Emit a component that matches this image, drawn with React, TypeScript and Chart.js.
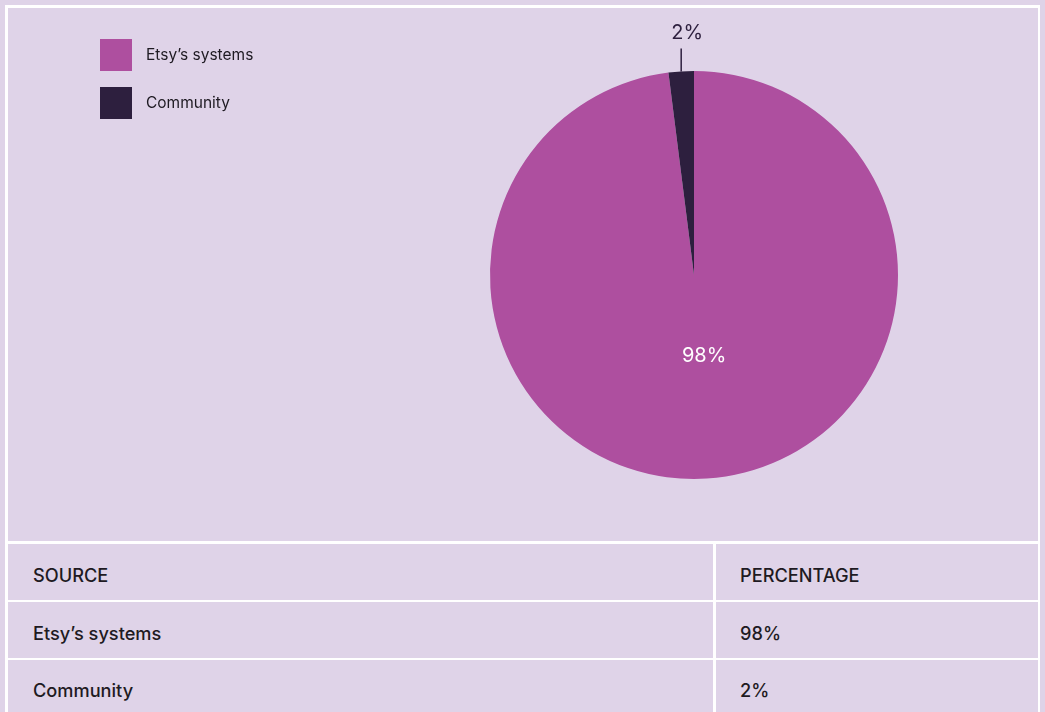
import React, { useEffect, useRef } from "react";
import { Chart, registerables } from "chart.js";

Chart.register(...registerables);

const categories = ["Etsy’s systems", "Community"];
const values = [98, 2];
const valueLabels = ["98%", "2%"];
const tableHeaders = ["SOURCE", "PERCENTAGE"];

const BG = "#DFD3E8";
const COLORS = ["#AE4F9F", "#2D1F3E"];
const FONT = "Inter, 'Liberation Sans', Arial, sans-serif";

const labelPlugin = {
  id: "customLabels",
  afterDatasetsDraw(chart: any) {
    const ctx = chart.ctx;
    const meta = chart.getDatasetMeta(0);
    ctx.save();
    meta.data.forEach((arc: any, i: number) => {
      const { x, y, startAngle, endAngle, outerRadius } = arc.getProps(
        ["x", "y", "startAngle", "endAngle", "outerRadius"],
        true
      );
      const mid = (startAngle + endAngle) / 2;
      const share = values[i] / values.reduce((a, b) => a + b, 0);
      ctx.font = `20px ${FONT}`;
      ctx.textAlign = "center";
      ctx.textBaseline = "middle";
      if (share > 0.1) {
        const r = outerRadius * 0.4;
        ctx.fillStyle = "#FFFFFF";
        ctx.fillText(valueLabels[i], x + Math.cos(mid) * r + 5, y + Math.sin(mid) * r);
      } else {
        const x0 = x + Math.cos(mid) * outerRadius;
        const y0 = y + Math.sin(mid) * outerRadius;
        const x1 = x0;
        const y1 = y0 - 23;
        ctx.strokeStyle = COLORS[1];
        ctx.lineWidth = 1.5;
        ctx.beginPath();
        ctx.moveTo(x0, y0);
        ctx.lineTo(x1, y1);
        ctx.stroke();
        ctx.fillStyle = "#2D1F3E";
        ctx.fillText(valueLabels[i], x1 + 6, y1 - 15);
      }
    });
    // legend
    categories.forEach((c, i) => {
      const ly = 31 + i * 48;
      ctx.fillStyle = COLORS[i];
      ctx.fillRect(92, ly, 32, 32);
      ctx.fillStyle = "#1E1A22";
      ctx.font = `15.5px ${FONT}`;
      ctx.textAlign = "left";
      ctx.textBaseline = "middle";
      ctx.fillText(c, 138, ly + 16);
    });
    ctx.restore();
  },
};

export default function App() {
  const ref = useRef<HTMLCanvasElement>(null);
  useEffect(() => {
    document.body.style.margin = "0";
    const chart = new Chart(ref.current!, {
      type: "pie",
      data: {
        labels: categories,
        datasets: [
          {
            data: values,
            backgroundColor: COLORS,
            borderWidth: 0,
          },
        ],
      },
      options: {
        animation: false,
        responsive: false,
        maintainAspectRatio: false,
        layout: { padding: { left: 482, right: 140, top: 63, bottom: 62 } },
        plugins: {
          legend: { display: false },
          tooltip: { enabled: false },
        },
      },
      plugins: [labelPlugin],
    });
    return () => chart.destroy();
  }, []);

  const cellText: React.CSSProperties = {
    fontFamily: FONT,
    fontSize: 18.2,
    fontWeight: 500,
    color: "#1E1A22",
    display: "flex",
    alignItems: "center",
    boxSizing: "border-box",
  };
  const rows = [tableHeaders, ...categories.map((c, i) => [c, valueLabels[i]])];

  return (
    <div
      style={{
        position: "relative",
        width: 1045,
        height: 712,
        background: BG,
        overflow: "hidden",
      }}
    >
      <div
        style={{
          position: "absolute",
          left: 5,
          top: 5,
          width: 1035,
          height: 707,
          background: "#FFFFFF",
        }}
      />
      <canvas
        ref={ref}
        width={1030}
        height={533}
        style={{ position: "absolute", left: 8, top: 8, width: 1030, height: 533, background: BG }}
      />
      {rows.map((r, ri) => {
        const top = [544, 602, 660][ri];
        const h = [56, 56, 60][ri];
        return (
          <React.Fragment key={ri}>
            <div
              style={{
                ...cellText,
                position: "absolute",
                left: 8,
                top,
                width: 705,
                height: h,
                background: BG,
                paddingLeft: 25,
                paddingTop: ri === 2 ? 0 : 6,
              }}
            >
              {r[0]}
            </div>
            <div
              style={{
                ...cellText,
                position: "absolute",
                left: 716,
                top,
                width: 322,
                height: h,
                background: BG,
                paddingLeft: 24,
                paddingTop: ri === 2 ? 0 : 6,
              }}
            >
              {r[1]}
            </div>
          </React.Fragment>
        );
      })}
    </div>
  );
}
